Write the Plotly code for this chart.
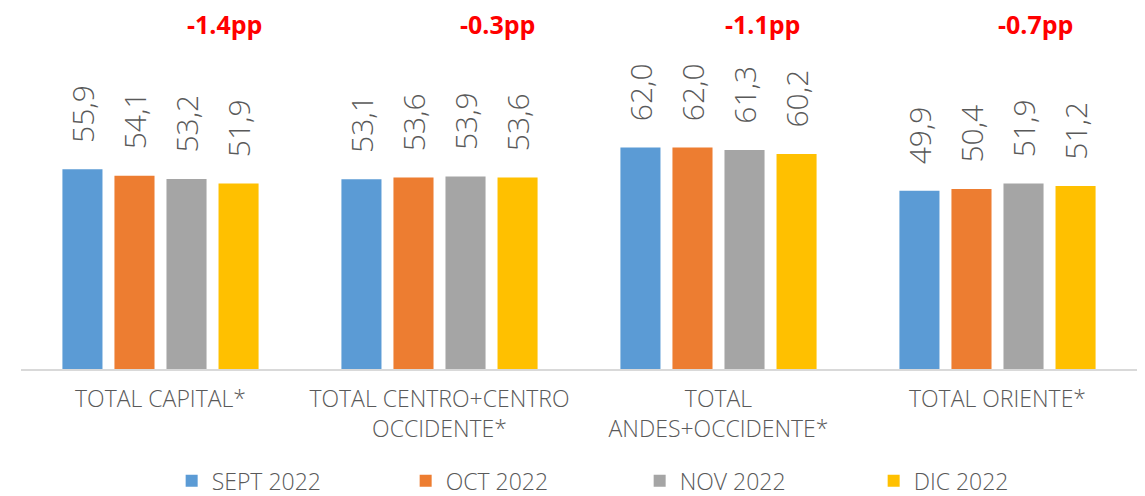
import plotly.graph_objects as go

# Regions on the x axis
regions = [
    "TOTAL CAPITAL*",
    "TOTAL CENTRO+CENTRO<br>OCCIDENTE*",
    "TOTAL<br>ANDES+OCCIDENTE*",
    "TOTAL ORIENTE*",
]

months = ["SEPT 2022", "OCT 2022", "NOV 2022", "DIC 2022"]
colors = ["#5B9BD5", "#ED7D31", "#A5A5A5", "#FFC000"]

sept_2022 = [55.9, 53.1, 62.0, 49.9]
oct_2022 = [54.1, 53.6, 62.0, 50.4]
nov_2022 = [53.2, 53.9, 61.3, 51.9]
dic_2022 = [51.9, 53.6, 60.2, 51.2]
series = [sept_2022, oct_2022, nov_2022, dic_2022]

# change Sept -> Dic, shown in red above each group
deltas = ["-1.4pp", "-0.3pp", "-1.1pp", "-0.7pp"]
delta_shift = [64, 58, 44, 38]  # px offset of each red label from group centre

FONT = "Open Sans"
GREY = "#595959"
PAD = "\u00a0" * 3

fig = go.Figure()
for name, vals, col in zip(months, series, colors):
    fig.add_trace(go.Bar(
        x=regions,
        y=vals,
        name=name,
        marker=dict(color=col, line=dict(width=0)),
        texttemplate=PAD + "%{y:.1f}",
        textposition="outside",
        textangle=-90,
        constraintext="none",
        cliponaxis=False,
        textfont=dict(family=FONT, size=30, color=GREY, weight=300),
    ))

for reg, txt, dx in zip(regions, deltas, delta_shift):
    fig.add_annotation(
        x=reg, xref="x", y=1, yref="paper",
        yanchor="middle", yshift=16, xshift=dx, borderpad=0,
        text="<b>" + txt + "</b>", showarrow=False,
        font=dict(family=FONT, size=25, color="#FF0000"),
    )

# page body has an 8px margin, so the figure is sized to fit the window
fig.update_layout(
    width=1137, height=488,
    margin=dict(l=13, r=8, t=32, b=127, autoexpand=False),
    paper_bgcolor="white", plot_bgcolor="white",
    barmode="group", bargap=0.254, bargroupgap=0.23,
    separators=",.",
    showlegend=True,
    legend=dict(
        orientation="h", x=0.135, xanchor="left", y=-0.34, yanchor="middle",
        entrywidth=189, entrywidthmode="pixels",
        font=dict(family=FONT, size=23, color=GREY, weight=300),
        traceorder="normal",
    ),
)
fig.update_xaxes(
    showline=True, linecolor="#D9D9D9", linewidth=2,
    showgrid=False, ticks="", ticklabelstandoff=8,
    tickfont=dict(family=FONT, size=23, color=GREY, weight=300),
)
fig.update_yaxes(range=[0, 92.1], visible=False, showgrid=False, zeroline=False)

fig.write_html("out.html")
